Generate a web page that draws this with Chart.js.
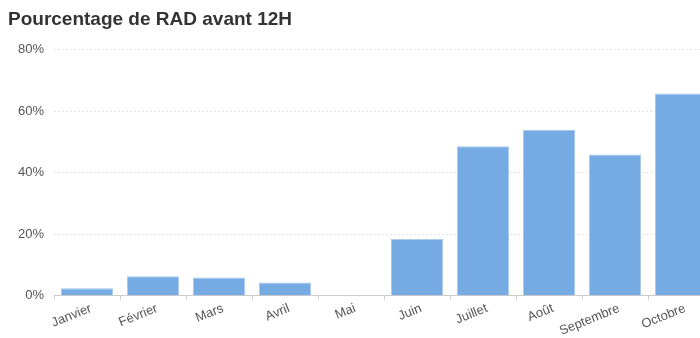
<!DOCTYPE html>
<html>
<head>
<meta charset="utf-8">
<script src="https://cdn.jsdelivr.net/npm/chart.js@4"></script>
<style>
html,body{margin:0;padding:0;background:#fff;overflow:hidden;width:700px;height:338px;}
#wrap{position:relative;width:718px;height:338px;}
</style>
</head>
<body>
<div id="wrap"><canvas id="c"></canvas></div>
<script>
const categories = ['Janvier','Février','Mars','Avril','Mai','Juin','Juillet','Août','Septembre','Octobre'];
const values = [2.4, 6.3, 5.9, 4.3, 0, 18.5, 48.6, 53.9, 45.9, 65.8];
const yTicks = [0, 20, 40, 60, 80];
const titleText = 'Pourcentage de RAD avant 12H';

new Chart(document.getElementById('c'), {
  type: 'bar',
  data: {
    labels: categories,
    datasets: [{
      data: values,
      backgroundColor: '#75aae2',
      borderColor: '#a9c9ef',
      borderWidth: 1,
      categoryPercentage: 1,
      barPercentage: 0.79
    }]
  },
  options: {
    responsive: true,
    maintainAspectRatio: false,
    animation: false,
    layout: { padding: { left: 8, right: 4, top: 0, bottom: -2 } },
    plugins: {
      legend: { display: false },
      tooltip: { enabled: false },
      title: {
        display: true,
        text: titleText,
        align: 'start',
        color: '#333',
        font: { family: 'Liberation Sans, Arial, sans-serif', size: 19, weight: 'bold' },
        padding: { top: 8, bottom: 19 }
      }
    },
    scales: {
      y: {
        min: 0, max: 80,
        afterBuildTicks: (ax) => { ax.ticks = yTicks.map(v => ({ value: v })); },
        ticks: {
          callback: v => v + '%',
          color: '#555',
          padding: 10,
          font: { family: 'Liberation Sans, Arial, sans-serif', size: 13 }
        },
        grid: { color: '#e3e3e3', drawTicks: false },
        border: { display: false, dash: [2, 2] }
      },
      x: {
        ticks: {
          color: '#555',
          minRotation: 22, maxRotation: 22,
          padding: 1,
          labelOffset: 4,
          font: { family: 'Liberation Sans, Arial, sans-serif', size: 13 }
        },
        grid: { drawOnChartArea: false, drawTicks: true, tickLength: 4, color: '#ccc' },
        border: { display: true, color: '#ccc' }
      }
    }
  }
});
</script>
</body>
</html>
